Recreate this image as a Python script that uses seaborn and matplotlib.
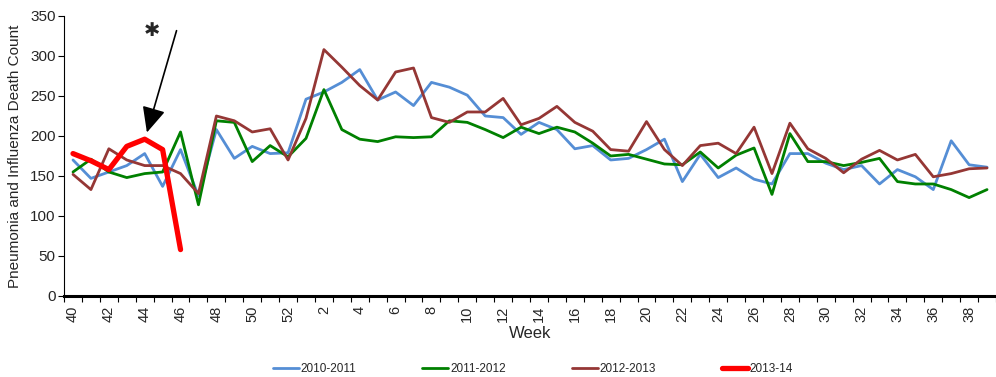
import matplotlib
matplotlib.use("Agg")
import matplotlib.pyplot as plt
import seaborn as sns
import pandas as pd
from matplotlib import font_manager

# Surveillance weeks: week 40 of one year through week 39 of the next
weeks = [40, 41, 42, 43, 44, 45, 46, 47, 48, 49, 50, 51, 52] + list(range(1, 40))

s2010_2011 = [170, 147, 155, 163, 178, 137, 183, 125, 208, 172, 187, 178, 179,
              246, 255, 267, 283, 245, 255, 238, 267, 261, 251, 225, 223, 202,
              217, 208, 184, 188, 170, 172, 183, 196, 143, 177, 148, 160, 146,
              140, 178, 178, 166, 158, 163, 140, 158, 149, 133, 194, 164, 161]

s2011_2012 = [155, 171, 155, 148, 153, 155, 205, 114, 219, 217, 168, 188, 174,
              197, 258, 208, 196, 193, 199, 198, 199, 219, 217, 208, 198, 211,
              203, 211, 205, 191, 175, 177, 171, 165, 164, 180, 160, 176, 185,
              127, 203, 168, 168, 163, 167, 172, 143, 140, 140, 133, 123, 133]

s2012_2013 = [152, 133, 184, 170, 163, 163, 153, 128, 225, 219, 205, 209, 170,
              222, 308, 286, 263, 245, 280, 285, 223, 217, 230, 230, 247, 214,
              222, 237, 217, 206, 183, 181, 218, 183, 163, 188, 191, 178, 211,
              153, 216, 184, 172, 154, 171, 182, 170, 177, 149, 153, 159, 160]

s2013_14 = [178, 169, 158, 187, 196, 183, 58]

series_names = ["2010-2011", "2011-2012", "2012-2013", "2013-14"]
series_values = [s2010_2011, s2011_2012, s2012_2013, s2013_14]
series_colors = ["#558ED5", "#008000", "#953735", "#FF0000"]
series_widths = [2.0, 2.0, 2.0, 3.8]

rows = []
for name, vals in zip(series_names, series_values):
    for i, v in enumerate(vals):
        rows.append({"pos": i, "week": weeks[i], "season": name, "deaths": v})
df = pd.DataFrame(rows)

sns.set_theme(style="white")
available = {f.name for f in font_manager.fontManager.ttflist}
narrow = "Liberation Sans Narrow" if "Liberation Sans Narrow" in available else "Liberation Sans"
plt.rcParams["font.family"] = ["Liberation Sans", "DejaVu Sans"]

fig = plt.figure(figsize=(9.96, 3.77), dpi=100)
ax = fig.add_axes([0.0643, 0.2149, 0.9357, 0.7427])

for name, color, lw in zip(series_names, series_colors, series_widths):
    sub = df[df["season"] == name]
    sns.lineplot(data=sub, x="pos", y="deaths", color=color, linewidth=lw,
                 label=name, ax=ax, legend=False)

ax.set_xlim(-0.5, 51.17)
ax.set_ylim(0, 350)
ax.set_yticks(range(0, 351, 50))
ax.tick_params(axis="y", labelsize=11, length=4, width=0.8, color="black",
               left=True, pad=2)

label_pos = list(range(0, len(weeks), 2))
ax.set_xticks(label_pos)
ax.set_xticklabels([str(weeks[i]) for i in label_pos], rotation=90,
                   fontsize=10.5, family=narrow)
ax.set_xticks([i - 0.5 for i in range(len(weeks) + 1)], minor=True)
ax.tick_params(axis="x", which="major", length=0, pad=7)
ax.tick_params(axis="x", which="minor", length=4, width=0.8, color="black",
               bottom=True)

for side in ["top", "right"]:
    ax.spines[side].set_visible(False)
ax.spines["left"].set_color("black")
ax.spines["left"].set_linewidth(0.8)
ax.spines["bottom"].set_color("black")
ax.spines["bottom"].set_linewidth(2.2)

ax.set_xlabel("Week", fontsize=12, family=narrow, labelpad=3)
ax.set_ylabel("Pneumonia and Influenza Death Count", fontsize=11, labelpad=6)

# Marker for the current-season reporting-lag drop
ax.annotate("", xy=(4.08, 201), xytext=(5.82, 335),
            arrowprops=dict(arrowstyle="-|>,head_length=1.3,head_width=0.6",
                            color="black", lw=1.2), annotation_clip=False)
ax.text(4.38, 332, "\u2731", fontsize=14, fontweight="bold", ha="center",
        va="center", family=["DejaVu Sans"])

handles, labels = ax.get_lines(), series_names
leg = fig.legend(handles[:4], labels, loc="center", ncol=4,
                 bbox_to_anchor=(0.535, 0.022), frameon=False,
                 prop={"family": narrow, "size": 8.5},
                 handlelength=2.2, handletextpad=0.15, columnspacing=5.6)

fig.savefig("out.png", dpi=100)
